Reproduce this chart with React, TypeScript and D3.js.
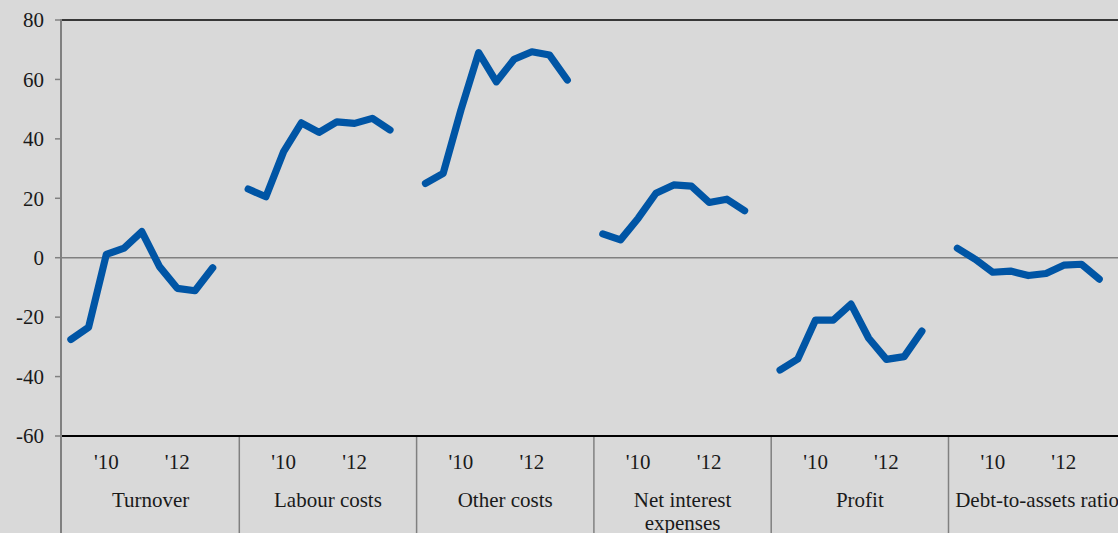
import React from "react";
import * as d3 from "d3";

const groups = ["Turnover", "Labour costs", "Other costs", "Net interest|expenses", "Profit", "Debt-to-assets ratio"];
const periods = ["2009H1", "2009H2", "2010H1", "2010H2", "2011H1", "2011H2", "2012H1", "2012H2", "2013H1"];
const periodTickLabels = ["", "", "'10", "", "", "", "'12", "", ""];
const turnover = [-27.5, -23.4, 1.1, 3.2, 8.8, -3.0, -10.3, -11.1, -3.4];
const labourCosts = [23.1, 20.5, 35.7, 45.4, 42.2, 45.7, 45.2, 46.9, 43.0];
const otherCosts = [25.0, 28.4, 49.7, 69.0, 59.2, 66.8, 69.3, 68.2, 59.8];
const netInterest = [8.0, 6.0, 13.3, 21.7, 24.5, 24.1, 18.6, 19.7, 15.8];
const profit = [-37.8, -34.1, -21.0, -21.0, -15.6, -27.1, -34.2, -33.3, -24.7];
const debtToAssets = [3.2, -0.5, -4.9, -4.5, -6.0, -5.3, -2.5, -2.2, -7.2];
const seriesValues = [turnover, labourCosts, otherCosts, netInterest, profit, debtToAssets];
const yTicks = [-60, -40, -20, 0, 20, 40, 60, 80];

const W = 1118;
const H = 533;
const left = 62;
const top = 20;
const bottom = 436;
const slotsPerGroup = periods.length + 1;
const groupWidth = 177.3;

export default function App() {
  const slots = d3.range(groups.length * slotsPerGroup);
  const x = d3
    .scaleBand<number>()
    .domain(slots)
    .range([left, left + groupWidth * groups.length])
    .padding(0);
  const y = d3.scaleLinear().domain([-60, 80]).range([bottom, top]);
  const line = d3
    .line<[number, number]>()
    .x((d) => d[0])
    .y((d) => d[1]);
  const font = "'Liberation Serif', 'Times New Roman', serif";
  const bw = x.bandwidth();

  return (
    <svg
      width={W}
      height={H}
      style={{ position: "absolute", left: 0, top: 0, display: "block" }}
    >
      <rect x={0} y={0} width={W} height={H} fill="#d9d9d9" />
      <line x1={left} x2={W} y1={top} y2={top} stroke="#000" strokeWidth={1.5} />
      <line x1={left} x2={W} y1={y(0)} y2={y(0)} stroke="#808080" strokeWidth={1.5} />
      {yTicks.map((t) => (
        <g key={t}>
          <line x1={55} x2={left} y1={y(t)} y2={y(t)} stroke="#808080" strokeWidth={1.5} />
          <text
            x={44}
            y={y(t)}
            dy="0.35em"
            textAnchor="end"
            fontFamily={font}
            fontSize={21}
            fill="#1a1a1a"
          >
            {t}
          </text>
        </g>
      ))}
      {groups.map((g, gi) => {
        const gx = x(gi * slotsPerGroup)!;
        return gi === 0 ? null : (
          <line key={g} x1={gx} x2={gx} y1={bottom} y2={H} stroke="#808080" strokeWidth={1.5} />
        );
      })}
      <line x1={61} x2={61} y1={top - 1} y2={H} stroke="#808080" strokeWidth={2} />
      <line x1={left} x2={W} y1={bottom} y2={bottom} stroke="#000" strokeWidth={2} />
      {seriesValues.map((vals, gi) => {
        const pts: [number, number][] = vals.map((v, i) => [
          x(gi * slotsPerGroup + i)! + bw / 2,
          y(v),
        ]);
        return (
          <path
            key={gi}
            d={line(pts) || ""}
            fill="none"
            stroke="#0055a5"
            strokeWidth={7.2}
            strokeLinecap="round"
            strokeLinejoin="round"
          />
        );
      })}
      {groups.map((g, gi) =>
        periodTickLabels.map((lab, i) =>
          lab ? (
            <text
              key={g + i}
              x={x(gi * slotsPerGroup + i)! + bw / 2}
              y={469}
              textAnchor="middle"
              fontFamily={font}
              fontSize={21}
              fill="#1a1a1a"
            >
              {lab}
            </text>
          ) : null
        )
      )}
      {groups.map((g, gi) => {
        const cx = x(gi * slotsPerGroup)! + groupWidth / 2;
        const lines = g.split("|");
        return (
          <text
            key={g}
            x={cx}
            y={507}
            textAnchor="middle"
            fontFamily={font}
            fontSize={21}
            fill="#1a1a1a"
          >
            {lines.map((l, li) => (
              <tspan key={li} x={cx} dy={li === 0 ? 0 : 23}>
                {l}
              </tspan>
            ))}
          </text>
        );
      })}
    </svg>
  );
}
